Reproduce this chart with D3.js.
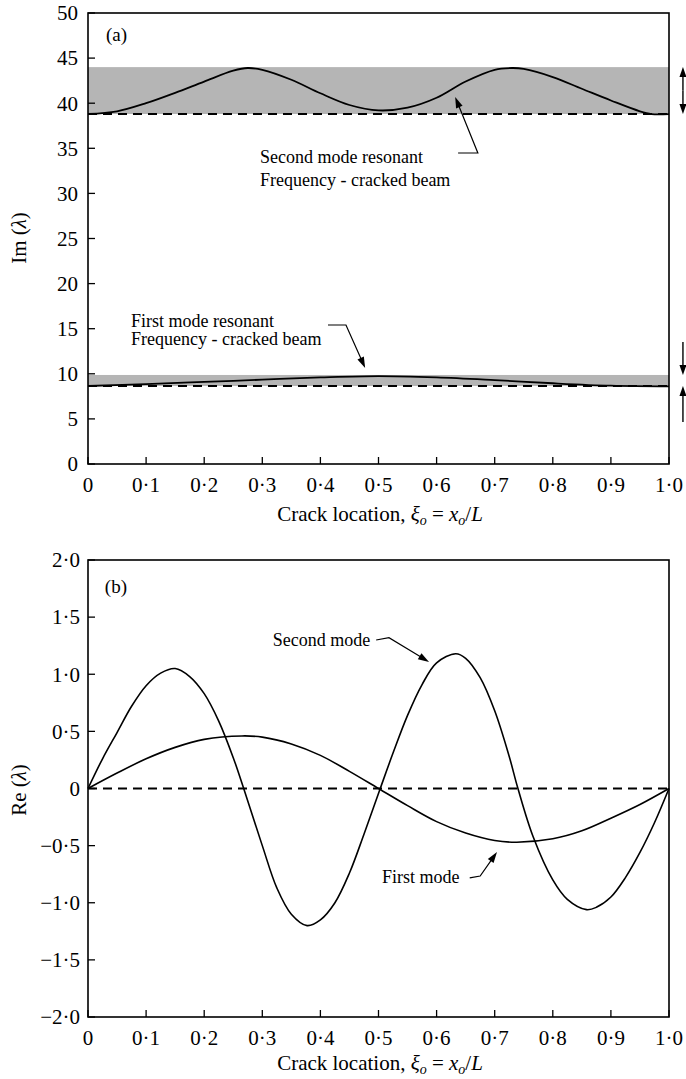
<!DOCTYPE html>
<html><head><meta charset="utf-8">
<script src="https://cdn.jsdelivr.net/npm/d3@7/dist/d3.min.js"></script>
<style>
body{margin:0;background:#fff}
svg{display:block}
text{font-family:"Liberation Serif","Times New Roman",serif;fill:#000}
</style>
</head><body>
<svg id="c" width="686" height="1079"></svg>
<script>
// ---------- data ----------
const xTicks = [0,0.1,0.2,0.3,0.4,0.5,0.6,0.7,0.8,0.9,1.0];
const xTickLabels = ["0","0·1","0·2","0·3","0·4","0·5","0·6","0·7","0·8","0·9","1·0"];
const imTicks = [0,5,10,15,20,25,30,35,40,45,50];
const imTickLabels = ["0","5","10","15","20","25","30","35","40","45","50"];
const reTicks = [-2,-1.5,-1,-0.5,0,0.5,1,1.5,2];
const reTickLabels = ["−2·0","−1·5","−1·0","−0·5","0","0·5","1·0","1·5","2·0"];

// (a) imaginary part – resonant frequencies of the cracked beam
const imMode1X = [0,0.1,0.2,0.3,0.4,0.5,0.6,0.7,0.8,0.9,1.0];
const imMode1  = [8.65,8.85,9.1,9.35,9.6,9.75,9.6,9.3,8.95,8.68,8.6];
const imMode2X = [0,0.05,0.1,0.15,0.2,0.25,0.275,0.3,0.35,0.4,0.45,0.5,0.55,0.6,0.65,0.7,0.73,0.75,0.8,0.85,0.9,0.95,0.97,1.0];
const imMode2  = [38.8,39.1,40.0,41.15,42.4,43.6,43.9,43.7,42.6,41.1,39.8,39.2,39.5,40.6,42.4,43.7,43.9,43.8,42.9,41.6,40.3,39.1,38.8,38.8];
const imBand1 = [8.65, 9.87];   // [dashed baseline, band top]
const imBand2 = [38.8, 44.0];

// (b) real part
const reMode1X = [0,0.05,0.1,0.15,0.2,0.265,0.3,0.35,0.4,0.45,0.5,0.55,0.6,0.65,0.7,0.738,0.8,0.85,0.9,0.95,1.0];
const reMode1  = [0,0.135,0.26,0.36,0.43,0.46,0.45,0.39,0.29,0.15,0,-0.15,-0.29,-0.39,-0.455,-0.47,-0.44,-0.37,-0.26,-0.14,0];
const reMode2X = [0,0.025,0.05,0.075,0.1,0.125,0.15,0.175,0.2,0.225,0.25,0.268,0.3,0.325,0.35,0.377,0.4,0.425,0.45,0.475,0.503,0.525,0.55,0.575,0.6,0.633,0.65,0.675,0.7,0.725,0.74,0.766,0.8,0.825,0.858,0.875,0.9,0.925,0.95,0.975,1.0];
const reMode2  = [0,0.26,0.49,0.72,0.9,1.01,1.05,0.98,0.83,0.59,0.27,0,-0.5,-0.87,-1.1,-1.2,-1.15,-1.0,-0.74,-0.4,0,0.31,0.64,0.91,1.1,1.18,1.14,0.97,0.68,0.28,0,-0.42,-0.8,-0.97,-1.06,-1.04,-0.95,-0.78,-0.56,-0.3,0];

// ---------- layout ----------
const svg = d3.select("#c");
const X0 = 88, X1 = 669;
const xA = d3.scaleLinear().domain([0,1]).range([X0,X1]);
const yA = d3.scaleLinear().domain([0,50]).range([464,13]);
const yB = d3.scaleLinear().domain([-2,2]).range([1017,560]);

const TICK_FS = 21, TITLE_FS = 21, ANN_FS = 18;

function frame(y, ticksY, labelsY, labelX) {
  const g = svg.append("g");
  const [yb, yt] = y.range();
  ticksY.forEach((t,i) => {
    g.append("line").attr("x1",X0).attr("x2",X0+7).attr("y1",y(t)).attr("y2",y(t))
      .attr("stroke","#000").attr("stroke-width",1.3);
    g.append("text").attr("x",labelX).attr("y",y(t)).attr("dy","0.35em")
      .attr("text-anchor","end").attr("font-size",TICK_FS).text(labelsY[i]);
  });
  xTicks.forEach((t,i) => {
    g.append("line").attr("x1",xA(t)).attr("x2",xA(t)).attr("y1",yb).attr("y2",yb-7)
      .attr("stroke","#000").attr("stroke-width",1.3);
    g.append("text").attr("x",xA(t)).attr("y",yb+28)
      .attr("text-anchor","middle").attr("font-size",TICK_FS).text(xTickLabels[i]);
  });
  g.append("rect").attr("x",X0).attr("y",yt).attr("width",X1-X0).attr("height",yb-yt)
    .attr("fill","none").attr("stroke","#000").attr("stroke-width",1.6);
  return g;
}

function xTitle(yBase) {
  const t = svg.append("text").attr("x",380).attr("y",yBase).attr("text-anchor","middle")
    .attr("font-size",TITLE_FS);
  t.append("tspan").text("Crack location, ");
  t.append("tspan").attr("font-style","italic").text("ξ");
  t.append("tspan").attr("font-style","italic").attr("font-size",14).attr("dy",4).text("o");
  t.append("tspan").attr("dy",-4).text(" = ");
  t.append("tspan").attr("font-style","italic").text("x");
  t.append("tspan").attr("font-style","italic").attr("font-size",14).attr("dy",4).text("o");
  t.append("tspan").attr("dy",-4).text("/");
  t.append("tspan").attr("font-style","italic").text("L");
}

function yTitle(name, cy) {
  const t = svg.append("text").attr("transform",`translate(26,${cy}) rotate(-90)`)
    .attr("text-anchor","middle").attr("font-size",TITLE_FS);
  t.append("tspan").text(name + " (");
  t.append("tspan").attr("font-style","italic").text("λ");
  t.append("tspan").text(")");
}

function arrow(pts, headLen=11, headW=7, sw=1.2) {
  const n = pts.length;
  const [tx,ty] = pts[n-1], [px,py] = pts[n-2];
  const dx = tx-px, dy = ty-py, L = Math.hypot(dx,dy);
  const ux = dx/L, uy = dy/L;
  const bx = tx-ux*headLen, by = ty-uy*headLen;
  const line = pts.slice(0,n-1).concat([[bx+ux*2,by+uy*2]]);
  svg.append("path").attr("d",d3.line()(line)).attr("fill","none").attr("stroke","#000").attr("stroke-width",sw);
  svg.append("path").attr("d",`M${tx},${ty}L${bx-uy*headW/2},${by+ux*headW/2}L${bx+uy*headW/2},${by-ux*headW/2}Z`)
    .attr("fill","#000");
}

const smooth = d3.curveCatmullRom.alpha(0.5);

// ---------- panel (a) ----------
svg.append("clipPath").attr("id","clipA").append("rect")
  .attr("x",X0).attr("y",13).attr("width",X1-X0).attr("height",451);
const gA = svg.append("g").attr("clip-path","url(#clipA)");
[imBand1, imBand2].forEach(b => {
  gA.append("rect").attr("x",X0).attr("width",X1-X0)
    .attr("y",yA(b[1])).attr("height",yA(b[0])-yA(b[1])).attr("fill","#b5b5b5");
  gA.append("line").attr("x1",X0).attr("x2",X1).attr("y1",yA(b[0])).attr("y2",yA(b[0]))
    .attr("stroke","#000").attr("stroke-width",2).attr("stroke-dasharray","9,6");
});
const lineA = (xs) => d3.line().x((d,i)=>xA(xs[i])).y(d=>yA(d)).curve(smooth);
gA.append("path").attr("d",lineA(imMode1X)(imMode1)).attr("fill","none").attr("stroke","#000").attr("stroke-width",1.8);
gA.append("path").attr("d",lineA(imMode2X)(imMode2)).attr("fill","none").attr("stroke","#000").attr("stroke-width",1.8);
frame(yA, imTicks, imTickLabels, 78);
xTitle(521);
yTitle("Im", 238);
svg.append("text").attr("x",xA(0.031)).attr("y",yA(46.9)).attr("font-size",ANN_FS+1).text("(a)");

svg.append("text").attr("x",xA(0.296)).attr("y",yA(33.37)).attr("font-size",ANN_FS).text("Second mode resonant");
svg.append("text").attr("x",xA(0.296)).attr("y",yA(30.82)).attr("font-size",ANN_FS).text("Frequency - cracked beam");
arrow([[xA(0.637),yA(34.48)],[xA(0.671),yA(34.48)],[xA(0.632),yA(40.69)]]);
svg.append("text").attr("x",xA(0.074)).attr("y",yA(15.19)).attr("font-size",ANN_FS).text("First mode resonant");
svg.append("text").attr("x",xA(0.074)).attr("y",yA(13.19)).attr("font-size",ANN_FS).text("Frequency - cracked beam");
arrow([[xA(0.413),yA(15.41)],[xA(0.444),yA(15.41)],[xA(0.477),yA(10.64)]]);

const xs = xA(1.024);
arrow([[xs,(yA(imBand2[0])+yA(imBand2[1]))/2],[xs,yA(imBand2[1])]], 10, 7, 1.4);
arrow([[xs,(yA(imBand2[0])+yA(imBand2[1]))/2],[xs,yA(imBand2[0])]], 10, 7, 1.4);
arrow([[xs,yA(13.53)],[xs,yA(imBand1[1])]], 10, 7, 1.4);
arrow([[xs,yA(4.66)],[xs,yA(imBand1[0])]], 10, 7, 1.4);

// ---------- panel (b) ----------
const gB = svg.append("g");
gB.append("line").attr("x1",X0).attr("x2",X1).attr("y1",yB(0)).attr("y2",yB(0))
  .attr("stroke","#000").attr("stroke-width",2).attr("stroke-dasharray","9,6");
const lineB = (xs) => d3.line().x((d,i)=>xA(xs[i])).y(d=>yB(d)).curve(smooth);
gB.append("path").attr("d",lineB(reMode1X)(reMode1)).attr("fill","none").attr("stroke","#000").attr("stroke-width",1.6);
gB.append("path").attr("d",lineB(reMode2X)(reMode2)).attr("fill","none").attr("stroke","#000").attr("stroke-width",1.6);
frame(yB, reTicks, reTickLabels, 80);
xTitle(1070);
yTitle("Re", 790);
svg.append("text").attr("x",xA(0.029)).attr("y",yB(1.71)).attr("font-size",ANN_FS+1).text("(b)");

svg.append("text").attr("x",xA(0.318)).attr("y",yB(1.247)).attr("font-size",ANN_FS).text("Second mode");
arrow([[xA(0.496),yB(1.30)],[xA(0.518),yB(1.32)],[xA(0.587),yB(1.107)]]);
svg.append("text").attr("x",xA(0.506)).attr("y",yB(-0.827)).attr("font-size",ANN_FS).text("First mode");
arrow([[xA(0.657),yB(-0.783)],[xA(0.675),yB(-0.766)],[xA(0.704),yB(-0.556)]]);
</script>
</body></html>
